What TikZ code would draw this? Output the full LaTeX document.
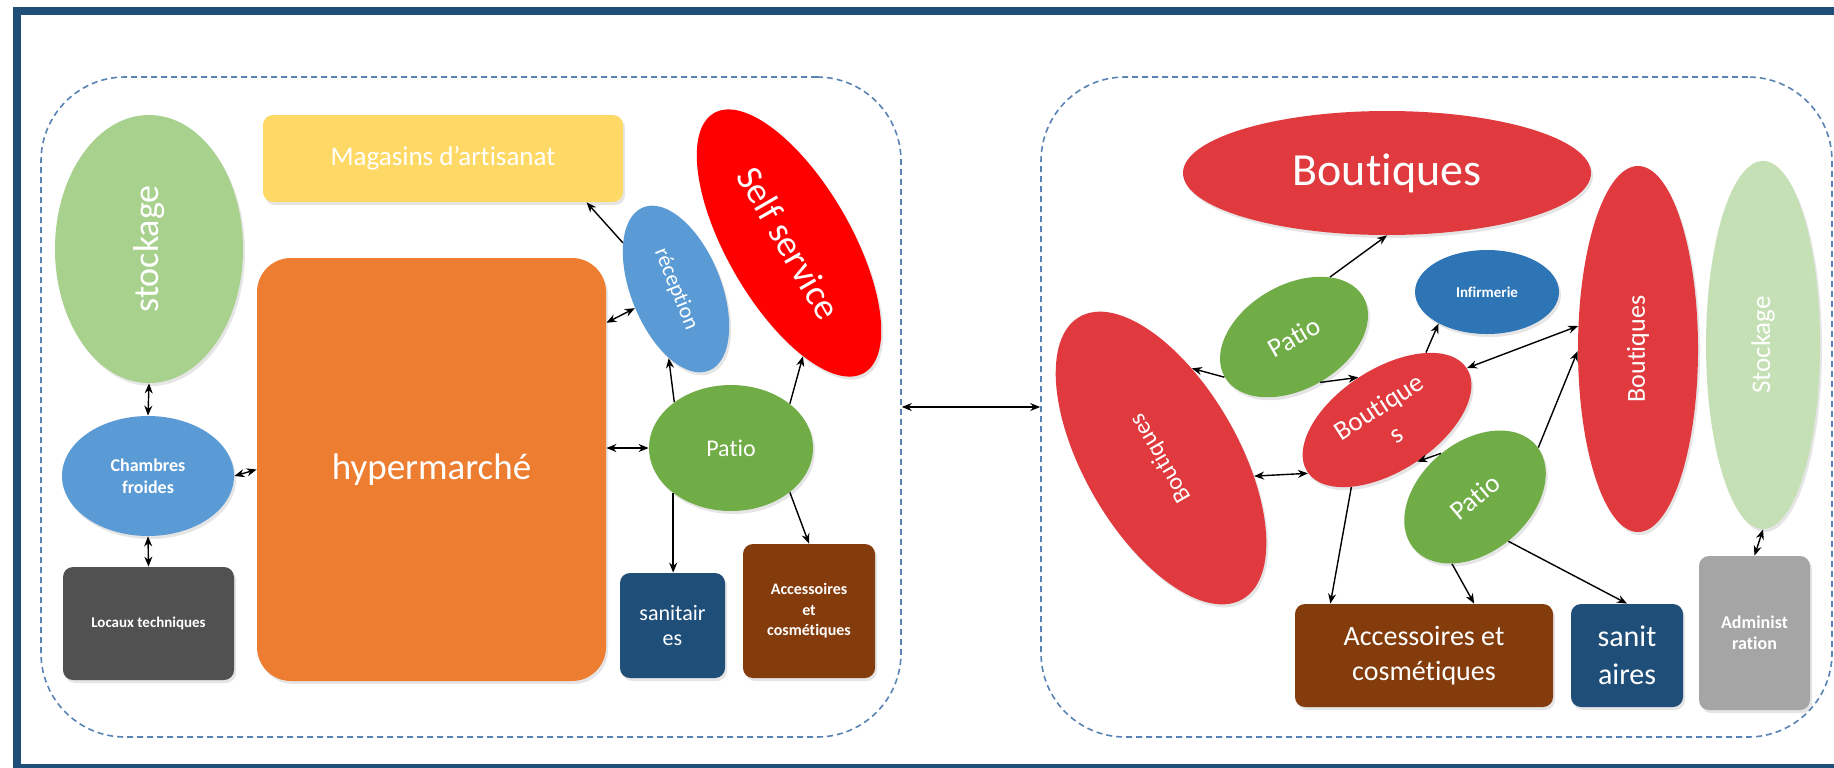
\documentclass[tikz,border=0pt]{standalone}
\usepackage{fontspec}
\setmainfont{Carlito}[Ligatures=CommonOff]
\usetikzlibrary{shapes.geometric,arrows.meta,shadows,calc}
\definecolor{frameblue}{HTML}{1F4E79}
\definecolor{dashblue}{HTML}{5A83B5}
\definecolor{stockgreen}{HTML}{A9D18E}
\definecolor{lightblue}{HTML}{5B9BD5}
\definecolor{darkgrayA}{HTML}{515151}
\definecolor{orangeA}{HTML}{ED7D31}
\definecolor{yellowA}{HTML}{FFD966}
\definecolor{pureRed}{HTML}{FF0000}
\definecolor{greenA}{HTML}{70AD47}
\definecolor{navyA}{HTML}{1F4E79}
\definecolor{brownA}{HTML}{843C0C}
\definecolor{redB}{HTML}{E03A3E}
\definecolor{blueB}{HTML}{2E75B6}
\definecolor{greenB}{HTML}{C5E0B4}
\definecolor{grayB}{HTML}{A5A5A5}
\begin{document}
\begin{tikzpicture}[x=0.5pt,y=-0.5pt,
  container/.style={draw=dashblue, dash pattern=on 3pt off 2pt, line width=0.8pt, rounded corners=42pt, inner sep=0pt},
  sh/.style={inner sep=0pt, text=white, drop shadow={shadow xshift=1pt, shadow yshift=-1.5pt, opacity=0.2}},
  ell/.style={sh, ellipse},
  boxA/.style={sh, rectangle, rounded corners=5pt},
  conn/.style={draw=black, line width=0.7pt, -{Stealth[length=5pt,width=4pt]}},
  bi/.style={draw=black, line width=0.7pt, {Stealth[length=5pt,width=4pt]}-{Stealth[length=5pt,width=4pt]}}
]
\useasboundingbox (0,0) rectangle (1834,767);
\clip (0,0) rectangle (1834,767);
\fill[white] (0,0) rectangle (1834,767);
\draw[frameblue, line width=4pt] (17,10.5) rectangle (1870,768);

% containers
\node[container, minimum width=430pt, minimum height=330pt] (leftbox) at (471,407) {};
\node[container, minimum width=395.5pt, minimum height=330pt] (rightbox) at (1436.5,407) {};

% left part
\node[ell, fill=stockgreen, minimum width=94pt, minimum height=134pt, font=\fontsize{18}{21}\selectfont] (stock) at (149,249) {\rotatebox{90}{stockage}};
\node[ell, fill=lightblue, minimum width=86pt, minimum height=60pt, font=\bfseries\fontsize{9}{11}\selectfont, align=center] (chf) at (148,476) {Chambres\\froides};
\node[boxA, fill=darkgrayA, minimum width=85.5pt, minimum height=56.5pt, font=\bfseries\fontsize{7.5}{9}\selectfont] (loc) at (148.5,623.5) {Locaux techniques};
\node[boxA, rounded corners=17pt, fill=orangeA, minimum width=174.5pt, minimum height=211.5pt, font=\fontsize{18.5}{22}\selectfont] (hyp) at (431.5,469.5) {\raisebox{-3pt}{hypermarché}};
\node[boxA, fill=yellowA, minimum width=180pt, minimum height=43.5pt, font=\fontsize{13.5}{16}\selectfont] (mag) at (443,158.5) {Magasins d’artisanat};
\node[ell, fill=lightblue, minimum width=88pt, minimum height=45pt, rotate=-68, font=\fontsize{11}{13}\selectfont] (rec) at (676,289) {réception};
\node[ell, fill=pureRed, minimum width=150pt, minimum height=62pt, rotate=-60, font=\fontsize{18.5}{22}\selectfont] (self) at (789,243) {Self service};
\node[ell, fill=greenA, minimum width=82pt, minimum height=63pt, font=\fontsize{12}{14}\selectfont] (patL) at (731,448) {Patio};
\node[boxA, fill=navyA, minimum width=52.5pt, minimum height=52.5pt, font=\fontsize{11}{12.5}\selectfont, align=center] (sanL) at (672.5,625.5) {sanitair\\es};
\node[boxA, fill=brownA, minimum width=66pt, minimum height=67pt, font=\bfseries\fontsize{8}{10.3}\selectfont, align=center] (accL) at (809,611) {Accessoires\\et\\cosmétiques};

% right part
\node[ell, fill=redB, minimum width=204pt, minimum height=62pt, font=\fontsize{23}{27}\selectfont] (btop) at (1387,173) {Boutiques};
\node[ell, fill=redB, minimum width=163pt, minimum height=77pt, rotate=120, font=\fontsize{12}{14}\selectfont] (bleft) at (1161,458) {Boutiques};
\node[ell, fill=greenA, minimum width=80pt, minimum height=52pt, rotate=30, font=\fontsize{13.5}{16}\selectfont] (patU) at (1294,337) {Patio};
\node[ell, fill=blueB, minimum width=72pt, minimum height=42pt, font=\bfseries\fontsize{7.5}{9}\selectfont] (inf) at (1487,292) {Infirmerie};
\node[ell, fill=redB, minimum width=95pt, minimum height=51pt, rotate=33, font=\fontsize{13.5}{16}\selectfont, align=center] (bcen) at (1387,420) {Boutique\\s};
\node[ell, fill=greenA, minimum width=80pt, minimum height=55pt, rotate=40, font=\fontsize{13.5}{16}\selectfont] (patD) at (1475,497) {Patio};
\node[ell, fill=redB, minimum width=60pt, minimum height=183pt, font=\fontsize{13}{15}\selectfont] (bright) at (1638,349) {\rotatebox{90}{Boutiques}};
\node[ell, fill=greenB, minimum width=57pt, minimum height=184pt, font=\fontsize{13.5}{16}\selectfont] (stockR) at (1763,345) {\rotatebox{90}{Stockage}};
\node[boxA, fill=brownA, minimum width=129pt, minimum height=51.5pt, font=\fontsize{14}{17.5}\selectfont, align=center] (accR) at (1424,655.5) {Accessoires et\\cosmétiques};
\node[boxA, fill=navyA, minimum width=56pt, minimum height=51.5pt, font=\fontsize{15}{19}\selectfont, align=center] (sanR) at (1627,655.5) {sanit\\aires};
\node[boxA, fill=grayB, minimum width=55.5pt, minimum height=77pt, font=\bfseries\fontsize{9}{10.6}\selectfont, align=center] (adm) at (1754.5,633) {Administ\\ration};

% left connectors
\draw[bi] (stock.south) -- (chf.north);
\draw[bi] (chf.south) -- (loc.north);
\draw[bi] (chf.east) -- (hyp.west);
\draw[bi] (hyp.40.8) -- (rec.273.4);
\draw[bi] (hyp.east |- patL.west) -- (patL.west);
\draw[conn] (rec.207.4) -- (mag.-17.9);
\draw[conn] (patL.141.2) -- (rec.-28.7);
\draw[conn] (patL.37.3) -- (self.-23.8);
\draw[conn] (patL.218.8) -- (patL.218.8 |- sanL.north);
\draw[conn] (patL.-37.3) -- (accL.north);

% link between the two parts
\draw[bi] (leftbox.east) -- (rightbox.west);

% right connectors
\draw[conn] (patU.29.9) -- (btop.south);
\draw[conn] (patU.180) -- (bleft.-49.4);
\draw[conn] (patU.-90) -- (bcen.91.6);
\draw[conn] (bcen.27.8) -- (inf.213.4);
\draw[bi] (bcen.0) -- (bright.159.9);
\draw[bi] (bleft.-131.8) -- (bcen.181);
\draw[conn] (patD.88.7) -- (bcen.-87.5);
\draw[conn] (patD.-2.2) -- (bright.182.9);
\draw[conn] (bcen.209.4) -- (accR.151.8);
\draw[conn] (patD.211.6) -- (accR.46.4);
\draw[conn] (patD.-93.1) -- (sanR.north);
\draw[bi] (stockR.south) -- (adm.north);
\end{tikzpicture}
\end{document}
